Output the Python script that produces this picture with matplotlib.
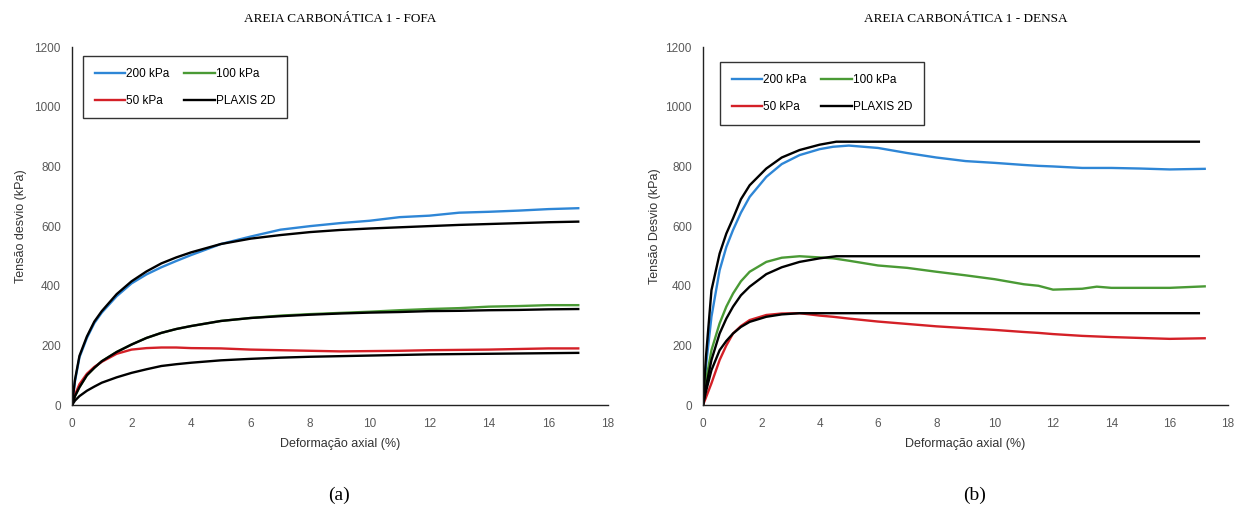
from matplotlib import pyplot as plt

# --- (a) areia carbonatica 1 - fofa ---
fofa_x = [0, 0.1, 0.25, 0.5, 0.75, 1, 1.5, 2, 2.5, 3, 3.5, 4, 5, 6, 7, 8, 9, 10, 11, 12, 13, 14, 15, 16, 17]
fofa_200 = [0, 80, 160, 225, 275, 310, 365, 408, 438, 462, 483, 503, 540, 565, 588, 600, 610, 618, 630, 635, 645, 648, 652, 657, 660]
fofa_100 = [0, 30, 60, 100, 125, 147, 178, 203, 225, 242, 255, 265, 282, 292, 300, 305, 309, 313, 318, 322, 325, 330, 332, 335, 335]
fofa_50 = [0, 35, 70, 105, 128, 145, 172, 186, 191, 193, 193, 191, 190, 186, 184, 182, 180, 181, 182, 184, 185, 186, 188, 190, 190]

plx_fofa_x = fofa_x
plx_fofa_200 = [0, 85, 165, 230, 280, 315, 372, 415, 448, 475, 495, 512, 540, 558, 570, 580, 587, 592, 596, 600, 604, 607, 610, 613, 615]
plx_fofa_100 = [0, 30, 60, 100, 125, 147, 178, 203, 225, 242, 255, 265, 282, 292, 298, 303, 307, 310, 312, 315, 316, 318, 319, 321, 322]
plx_fofa_50 = [0, 15, 30, 48, 62, 75, 93, 108, 120, 131, 137, 142, 150, 155, 159, 162, 164, 166, 168, 170, 171, 172, 173, 174, 175]

# --- (b) areia carbonatica 1 - densa ---
densa_x = [0, 0.1, 0.29, 0.57, 0.8, 1.03, 1.3, 1.6, 2.17, 2.7, 3.31, 4, 4.46, 5, 6, 7, 8, 9, 10, 11, 11.5, 12, 13, 13.5, 14, 15, 16, 17.2]
densa_200 = [0, 130, 296, 452, 530, 587, 645, 698, 765, 808, 838, 858, 866, 870, 862, 845, 830, 818, 812, 805, 802, 800, 795, 795, 795, 793, 790, 792]
densa_100 = [0, 80, 184, 274, 330, 374, 415, 447, 480, 494, 499, 495, 492, 484, 468, 460, 447, 435, 422, 405, 400, 387, 390, 397, 393, 393, 393, 398]
densa_50 = [0, 25, 73, 151, 200, 240, 265, 285, 302, 307, 308, 300, 296, 290, 280, 272, 264, 258, 252, 245, 242, 238, 232, 230, 228, 225, 222, 224]

plx_densa_x = [0, 0.1, 0.29, 0.57, 0.8, 1.03, 1.3, 1.6, 2.17, 2.7, 3.31, 4, 4.57, 17]
plx_densa_200 = [0, 160, 385, 508, 575, 626, 690, 737, 793, 830, 855, 873, 883, 883]
plx_densa_100 = [0, 60, 151, 240, 290, 330, 368, 397, 439, 462, 480, 492, 499, 499]
plx_densa_50 = [0, 45, 117, 184, 215, 240, 262, 279, 296, 304, 308, 308, 308, 308]

titulos = ["AREIA CARBONÁTICA 1 - FOFA", "AREIA CARBONÁTICA 1 - DENSA"]
ylabels = ["Tensão desvio (kPa)", "Tensão Desvio (kPa)"]
letras = ["(a)", "(b)"]

azul = '#2E86D6'
verde = '#4A9A35'
vermelho = '#D42027'

fig = plt.figure(figsize=(12.48, 5.18), dpi=100)
ax1 = fig.add_axes([0.0577, 0.218, 0.4295, 0.691])
ax2 = fig.add_axes([0.5633, 0.218, 0.4207, 0.691])

dados = [
    (ax1, fofa_x, fofa_200, fofa_100, fofa_50, plx_fofa_x, plx_fofa_200, plx_fofa_100, plx_fofa_50, (0.02, 0.975)),
    (ax2, densa_x, densa_200, densa_100, densa_50, plx_densa_x, plx_densa_200, plx_densa_100, plx_densa_50, (0.032, 0.958)),
]

for i, (ax, x, s200, s100, s50, px, p200, p100, p50, leg_pos) in enumerate(dados):
    l200, = ax.plot(x, s200, color=azul, lw=1.7)
    l100, = ax.plot(x, s100, color=verde, lw=1.7)
    l50, = ax.plot(x, s50, color=vermelho, lw=1.7)
    lp, = ax.plot(px, p200, color='black', lw=1.7)
    ax.plot(px, p100, color='black', lw=1.7)
    ax.plot(px, p50, color='black', lw=1.7)

    ax.set_xlim(0, 18)
    ax.set_ylim(0, 1200)
    ax.set_xticks(range(0, 19, 2))
    ax.set_yticks(range(0, 1201, 200))
    for s in ['top', 'right']:
        ax.spines[s].set_visible(False)
    for s in ['left', 'bottom']:
        ax.spines[s].set_color('#222222')
        ax.spines[s].set_linewidth(1.0)
    ax.tick_params(axis='y', length=0, labelsize=8.5, labelcolor='#595959', pad=8)
    ax.tick_params(axis='x', length=0, labelsize=8.5, labelcolor='#595959', pad=9)
    for t in ax.get_xticklabels() + ax.get_yticklabels():
        t.set_family('Liberation Sans')

    ax.set_xlabel('Deformação axial (%)', fontsize=9, color='#333333', family='Liberation Sans', labelpad=6)
    ax.set_ylabel(ylabels[i], fontsize=9, color='#333333', family='Liberation Sans', labelpad=[5, 3][i])
    ax.set_title(titulos[i], fontsize=9.5, family='Liberation Serif', pad=18)

    leg = ax.legend([l200, l50, l100, lp], ['200 kPa', '50 kPa', '100 kPa', 'PLAXIS 2D'],
                    ncol=2, loc='upper left', bbox_to_anchor=leg_pos, borderaxespad=0,
                    fancybox=False, edgecolor='#333333', framealpha=1, handlelength=2.6,
                    handletextpad=0.1, columnspacing=1.2, borderpad=1.0, labelspacing=1.25,
                    prop={'family': 'Liberation Sans', 'size': 8.5})
    leg.get_frame().set_linewidth(1.0)

fig.text(0.272, 0.035, letras[0], fontsize=14, family='Liberation Serif', ha='center')
fig.text(0.781, 0.035, letras[1], fontsize=14, family='Liberation Serif', ha='center')

fig.savefig('out.png', dpi=100)
